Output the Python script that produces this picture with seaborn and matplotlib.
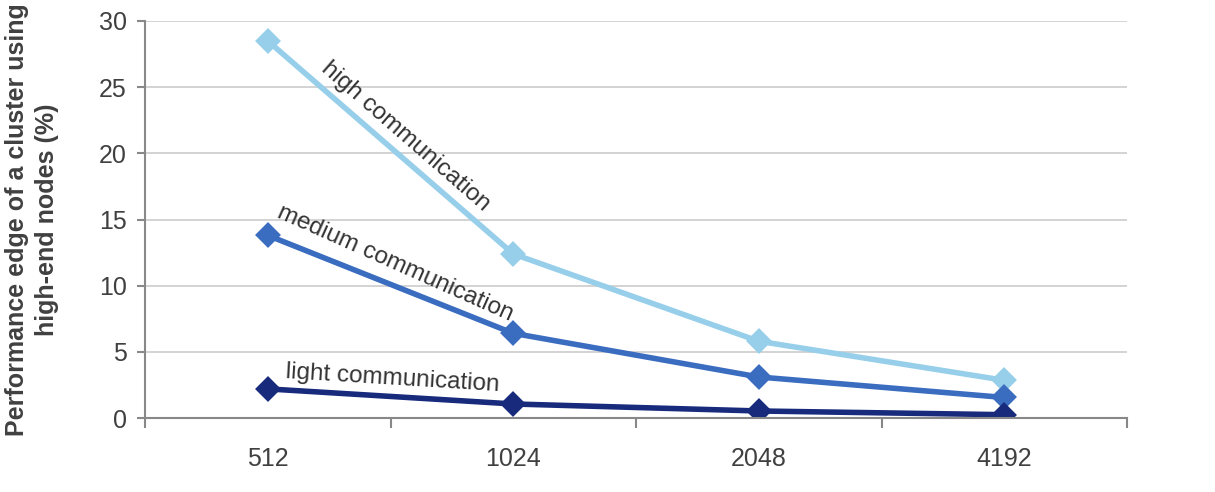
import matplotlib
matplotlib.use("Agg")
import matplotlib.pyplot as plt
import seaborn as sns
import pandas as pd
import numpy as np

nodes = ["512", "1024", "2048", "4192"]
high = [28.5, 12.4, 5.8, 2.85]
medium = [13.8, 6.4, 3.1, 1.55]
light = [2.2, 1.06, 0.53, 0.25]
series_names = ["high communication", "medium communication", "light communication"]
colors = ["#97CFEB", "#3A6CC0", "#172A7C"]
yticks = [0, 5, 10, 15, 20, 25, 30]

sns.set_theme(style="white")
plt.rcParams["font.family"] = ["Liberation Sans", "DejaVu Sans"]

rows = []
for name, vals in zip(series_names, [high, medium, light]):
    for n, v in zip(nodes, vals):
        rows.append({"nodes": n, "value": v, "series": name})
df = pd.DataFrame(rows)

fig = plt.figure(figsize=(12.15, 4.92), dpi=100)
ax = fig.add_axes([145 / 1215, 1 - 418 / 492, 982 / 1215, 397 / 492])

sns.pointplot(data=df, x="nodes", y="value", hue="series", order=nodes,
              hue_order=series_names, palette=colors, markers="D",
              markersize=10, linewidth=4, legend=False, ax=ax, errorbar=None)

ax.set_xlim(-0.5, 3.5)
ax.set_ylim(0, 30)
ax.set_yticks(yticks)
ax.yaxis.grid(True, color="#CCCCCC", linewidth=1.2)
ax.xaxis.grid(False)
ax.set_axisbelow(True)
for s in ["top", "right"]:
    ax.spines[s].set_visible(False)
for s in ["left", "bottom"]:
    ax.spines[s].set_color("#888888")
    ax.spines[s].set_linewidth(1.5)

ax.set_xticks(range(len(nodes)))
ax.set_xticklabels(nodes)
ax.set_xticks(np.arange(-0.5, 4.0, 1.0), minor=True)
ax.tick_params(axis="x", which="major", length=0, pad=21, labelsize=18, labelcolor="#404040")
ax.tick_params(axis="x", which="minor", length=7, width=1.5, color="#888888", direction="out", bottom=True)
ax.tick_params(axis="y", which="major", length=6, width=1.5, color="#888888", direction="out", left=True,
               pad=7, labelsize=18, labelcolor="#404040")
ax.set_xlabel("")
ax.set_ylabel("")

fig.text(32 / 1215, 1 - 220 / 492, "Performance edge of a cluster using\nhigh-end nodes (%)",
         rotation=90, ha="center", va="center", multialignment="center",
         fontsize=18, fontweight="bold", color="#404040", linespacing=1.3)

ax.text(0.56, 21.3, "high communication", rotation=-41, ha="center", va="center",
        rotation_mode="anchor", fontsize=17.5, color="#333333")
ax.text(0.52, 11.7, "medium communication", rotation=-24, ha="center", va="center",
        rotation_mode="anchor", fontsize=17.5, color="#333333")
ax.text(0.51, 3.0, "light communication", rotation=-3.5, ha="center", va="center",
        rotation_mode="anchor", fontsize=17.5, color="#333333")

fig.savefig("out.png", dpi=100)
